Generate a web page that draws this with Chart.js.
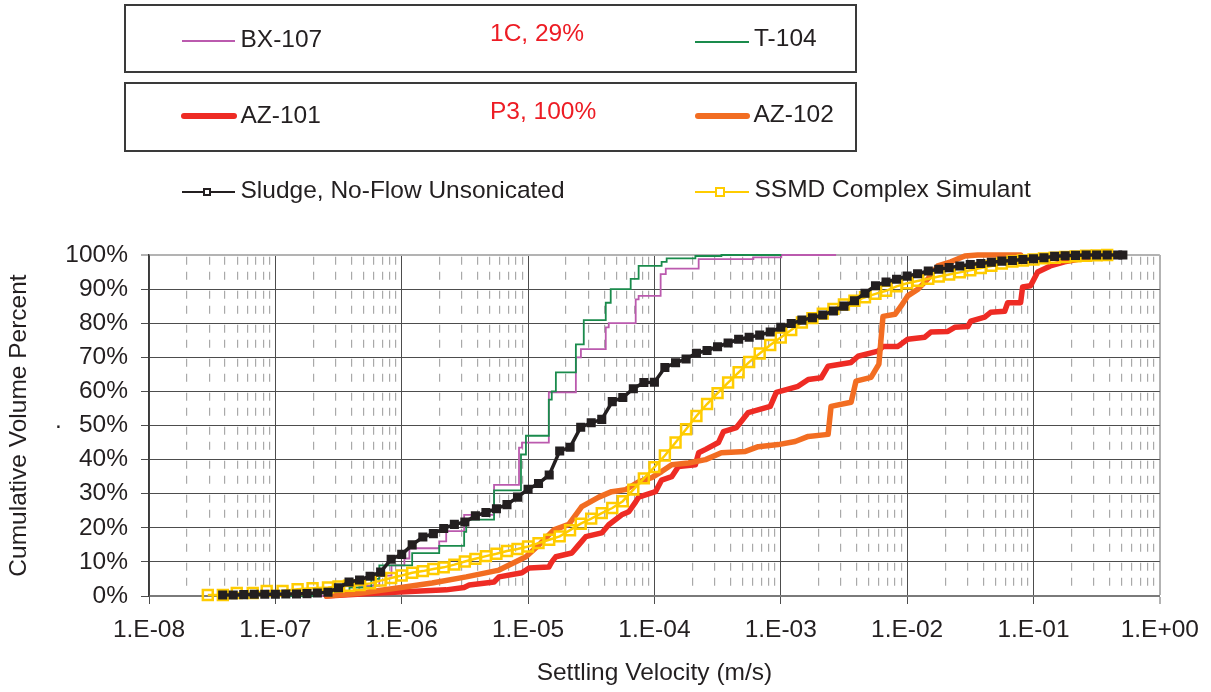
<!DOCTYPE html>
<html><head><meta charset="utf-8">
<script src="https://cdn.jsdelivr.net/npm/chart.js@4/dist/chart.umd.min.js"></script>
<style>
html,body{margin:0;padding:0;background:#fff;}
#wrap{position:relative;width:1211px;height:692px;overflow:hidden;font-family:"Liberation Sans",Arial,sans-serif;color:#231f20;}
#c{position:absolute;left:0;top:0;}
.box{position:absolute;box-sizing:border-box;border:2px solid #3a3a3a;}
.t{position:absolute;font-size:24.5px;line-height:24.5px;white-space:nowrap;}
.red{color:#ed1c24;}
.ln{position:absolute;}
.mk{position:absolute;box-sizing:border-box;}
</style></head>
<body><div id="wrap"><canvas id="c" width="1211" height="692"></canvas><div id="legend"></div></div>
<script>
// ---- names / labels ----
const seriesNames = ['BX-107','T-104','AZ-101','AZ-102','Sludge, No-Flow Unsonicated','SSMD Complex Simulant'];
const groupLabels = ['1C, 29%','P3, 100%'];
const xTitle = 'Settling Velocity (m/s)';
const yTitle = 'Cumulative Volume Percent';
const xMajorTicks = [1e-8,1e-7,1e-6,1e-5,1e-4,1e-3,1e-2,1e-1,1];
const xTickLabels = ['1.E-08','1.E-07','1.E-06','1.E-05','1.E-04','1.E-03','1.E-02','1.E-01','1.E+00'];
const xMinorMultipliers = [2,3,4,5,6,7,8,9];
const yTicks = [0,10,20,30,40,50,60,70,80,90,100];
const yTickLabels = ['0%','10%','20%','30%','40%','50%','60%','70%','80%','90%','100%'];

// ---- series values (velocity m/s, cumulative %) ----
const bx107V = [1.30e-7,2.69e-7,4.62e-7,6.65e-7,8.3e-7,1.05e-6,1.15e-6,1.98e-6,2.25e-6,3.12e-6,5.38e-6,8.48e-6,8.95e-6,1.46e-5,2.39e-5,2.62e-5,4.12e-5,4.35e-5,7.11e-5,7.50e-5,1.12e-4,1.23e-4,2.24e-4,6.07e-4,1.01e-3,2.74e-3];
const bx107P = [0,1,3,6,9,11,14,16,19,23.8,32.6,43.5,45,59.7,70,72.4,78.8,80,87,88,94.4,96,98.8,99.3,100,100];

const t104V = [1.08e-7,2.24e-7,3.86e-7,5.75e-7,6.65e-7,1.21e-6,1.98e-6,3.12e-6,3.24e-6,5.38e-6,8.79e-6,9.62e-6,1.46e-5,1.54e-5,1.66e-5,2.39e-5,2.76e-5,4.12e-5,4.51e-5,6.49e-5,7.50e-5,1.14e-4,1.25e-4,2.11e-4,3.39e-4,1.01e-3];
const t104P = [0,1,2.5,5,9,12.6,14.7,18.8,22.4,31,41.5,47,57.6,60,65.6,73.8,80.9,86,90,93,96.8,98,99,99.7,100,100];

const az101V = [2.54e-7,6.65e-7,2.25e-6,3.12e-6,3.42e-6,5.38e-6,5.89e-6,8.95e-6,1.02e-5,1.46e-5,1.54e-5,1.66e-5,2.22e-5,2.52e-5,2.86e-5,3.83e-5,4.35e-5,5.51e-5,6.27e-5,7.11e-5,7.50e-5,1.02e-4,1.14e-4,1.37e-4,1.55e-4,2.11e-4,2.24e-4,2.54e-4,3.21e-4,3.52e-4,4.46e-4,5.53e-4,8.26e-4,9.22e-4,1.37e-3,1.65e-3,2.09e-3,2.37e-3,3.60e-3,4.09e-3,5.88e-3,6.44e-3,8.46e-3,1.01e-2,1.38e-2,1.54e-2,2.10e-2,2.38e-2,3.02e-2,3.19e-2,4.11e-2,4.58e-2,5.92e-2,6.25e-2,7.91e-2,8.20e-2,9.48e-2,0.108,0.136,0.176,0.282,0.385];
const az101P = [0,0.9,1.8,2.5,3.2,4.1,5.6,6.8,8.2,8.5,10,11.5,12.6,15,17.4,18.5,20.9,23.8,24.7,27.6,29,30.6,34,35,38,38.5,42,43,45,48.2,49.4,53.8,55.6,59.7,61.5,63.5,64,67.4,68.5,70.3,71.8,73.2,73.2,75.3,75.9,77.4,77.6,78.8,79,80.6,81.8,83.2,83.5,86,86,90.6,91,95,96.8,98,99.4,100];

const az102V = [2.54e-7,4.62e-7,9.57e-7,1.74e-6,3.24e-6,5.89e-6,9.62e-6,1.22e-5,1.60e-5,2.10e-5,2.66e-5,3.63e-5,4.59e-5,5.93e-5,7.50e-5,9.51e-5,1.14e-4,1.37e-4,1.86e-4,2.54e-4,3.39e-4,5.25e-4,6.64e-4,9.55e-4,1.30e-3,1.65e-3,2.37e-3,2.50e-3,3.60e-3,3.94e-3,5.18e-3,5.98e-3,6.44e-3,8.02e-3,8.94e-3,1.01e-2,1.22e-2,1.46e-2,1.75e-2,2.22e-2,2.86e-2,3.62e-2,7.91e-2];
const az102P = [0,0.8,2.4,3.8,5.6,7.6,11.5,15,19.4,21,26.2,29,30.6,31.2,33.5,34.7,36.5,38.5,39,40,42,42.4,43.8,44.4,45.3,46.8,47.4,55.6,56.8,63,64.1,68,82,82.6,85,88,90,93,96.8,98,99.7,100,100];

const sludgeV = [3.83e-8,4.64e-8,5.62e-8,6.81e-8,8.25e-8,
 1e-7,1.21e-7,1.47e-7,1.78e-7,2.15e-7,2.61e-7,3.16e-7,3.83e-7,4.64e-7,5.62e-7,6.81e-7,8.25e-7,
 1e-6,1.21e-6,1.47e-6,1.78e-6,2.15e-6,2.61e-6,3.16e-6,3.83e-6,4.64e-6,5.62e-6,6.81e-6,8.25e-6,
 1e-5,1.21e-5,1.47e-5,1.78e-5,2.15e-5,2.61e-5,3.16e-5,3.83e-5,4.64e-5,5.62e-5,6.81e-5,8.25e-5,
 1e-4,1.21e-4,1.47e-4,1.78e-4,2.15e-4,2.61e-4,3.16e-4,3.83e-4,4.64e-4,5.62e-4,6.81e-4,8.25e-4,
 1e-3,1.21e-3,1.47e-3,1.78e-3,2.15e-3,2.61e-3,3.16e-3,3.83e-3,4.64e-3,5.62e-3,6.81e-3,8.25e-3,
 1e-2,1.21e-2,1.47e-2,1.78e-2,2.15e-2,2.61e-2,3.16e-2,3.83e-2,4.64e-2,5.62e-2,6.81e-2,8.25e-2,
 1e-1,1.21e-1,1.47e-1,1.78e-1,2.15e-1,2.61e-1,3.16e-1,3.83e-1,4.64e-1,5.1e-1];
const sludgeP = [0.3,0.3,0.4,0.5,0.5,
 0.5,0.6,0.6,0.7,0.9,1.1,2.4,4.1,4.7,5.8,7,10.8,
 12.2,15,17.3,18.3,19.8,21,21.7,23.5,24.5,25.6,26.8,29,
 31.3,33,35.5,42.5,43.6,49.5,50.8,51.8,57,58.2,60.8,62.6,
 62.7,67,68.4,69.5,71.2,72,73.1,74.2,75.3,75.9,76.5,77.4,
 78.8,79.9,80.9,81.6,82.4,83.6,85,86.6,88.8,91,92.1,92.9,
 93.8,94.5,95.3,95.8,96.3,96.8,97.2,97.5,97.9,98.2,98.4,98.7,
 98.9,99.2,99.6,99.8,99.9,100,100,100,100,100];

const ssmdV = [2.92e-8,3.84e-8,4.95e-8,6.62e-8,8.54e-8,1.14e-7,1.50e-7,1.97e-7,
 2.61e-7,3.16e-7,3.83e-7,4.64e-7,5.62e-7,6.81e-7,8.25e-7,
 1e-6,1.21e-6,1.47e-6,1.78e-6,2.15e-6,2.61e-6,3.16e-6,3.83e-6,4.64e-6,5.62e-6,6.81e-6,8.25e-6,
 1e-5,1.21e-5,1.47e-5,1.78e-5,2.15e-5,2.61e-5,3.16e-5,3.83e-5,4.64e-5,5.62e-5,6.81e-5,8.25e-5,
 1e-4,1.21e-4,1.47e-4,1.78e-4,2.15e-4,2.61e-4,3.16e-4,3.83e-4,4.64e-4,5.62e-4,6.81e-4,8.25e-4,
 1e-3,1.21e-3,1.47e-3,1.78e-3,2.15e-3,2.61e-3,3.16e-3,3.83e-3,4.64e-3,5.62e-3,6.81e-3,8.25e-3,
 1e-2,1.21e-2,1.47e-2,1.78e-2,2.15e-2,2.61e-2,3.16e-2,3.83e-2,4.64e-2,5.62e-2,6.81e-2,8.25e-2,
 1e-1,1.21e-1,1.47e-1,1.78e-1,2.15e-1,2.61e-1,3.16e-1,3.83e-1];
const ssmdP = [0.3,0.3,0.9,0.9,1.5,1.5,2,2.3,
 2.5,2.8,3.0,3.2,3.7,4.5,5.3,
 6.0,6.8,7.3,7.9,8.4,9.2,10.1,10.9,11.7,12.4,13.2,13.8,
 14.5,15.5,16.5,17.5,19.3,21.2,22.7,24.3,25.8,27.8,31.2,34.5,
 37.8,41.2,45,48.9,52.8,56.3,59.5,62.6,65.6,68.6,71.1,73.6,
 75.8,78,80.2,81.5,82.8,84.2,85.5,86.6,87.6,88.6,89.5,90.8,
 91.7,92.4,93,93.7,94.3,94.9,95.5,96.2,96.8,97.5,98.1,98.4,
 98.7,99,99.2,99.4,99.6,99.8,99.9,100];

// ---- colours ----
const colors = ['#bb5aae','#1a8b4c','#ee2b24','#f26d22','#231f20','#ffcc00'];

function pts(v, p){ return v.map((x,i)=>({x:x, y:p[i]})); }

// ---- legend (HTML) ----
const lg = document.getElementById('legend');
function add(html){ lg.insertAdjacentHTML('beforeend', html); }
add('<div class="box" style="left:124px;top:4px;width:733px;height:69px"></div>');
add('<div class="box" style="left:124px;top:82px;width:733px;height:70px"></div>');
function lineSample(x1,x2,top,h,c,round){ add('<div class="ln" style="left:'+x1+'px;top:'+top+'px;width:'+(x2-x1)+'px;height:'+h+'px;background:'+c+';'+(round?'border-radius:'+(h/2)+'px;':'')+'"></div>'); }
function markSample(left,top,s,bw,c,fill){ add('<div class="mk" style="left:'+left+'px;top:'+top+'px;width:'+s+'px;height:'+s+'px;border:'+bw+'px solid '+c+';background:'+fill+'"></div>'); }
function text(x,top,s,cls){ const d=document.createElement('div'); d.className='t'+(cls?' '+cls:''); d.style.left=x+'px'; d.style.top=top+'px'; d.textContent=s; lg.appendChild(d); }
lineSample(182,235,40,2,colors[0]); text(240.5,26.6,seriesNames[0]);
lineSample(695,749,41,2,colors[1]); text(754,26.3,seriesNames[1]);
text(490,21,groupLabels[0],'red');
lineSample(181,237,113,6,colors[2],true); text(240.5,102.6,seriesNames[2]);
lineSample(695,750,113,6,colors[3],true); text(753.5,102.3,seriesNames[3]);
text(490,98.6,groupLabels[1],'red');
lineSample(182,235,191,2,colors[4]); markSample(203,188,8,2,colors[4],'#fff'); text(240.5,177.6,seriesNames[4]);
lineSample(695,749,191,2,colors[5]); markSample(715,187,10,2,colors[5],'#fff'); text(754.5,177.3,seriesNames[5]);
text(55,407.5,'.');

// ---- chart ----
Chart.defaults.font.family = '"Liberation Sans", Arial, sans-serif';
Chart.defaults.font.size = 24.5;
Chart.defaults.color = '#231f20';

const common = {xAxisID:'x', yAxisID:'y', clip:false, tension:0, fill:false};
new Chart(document.getElementById('c'), {
  type:'line',
  data:{ datasets:[
    Object.assign({label:seriesNames[4], data:pts(sludgeV,sludgeP), borderColor:colors[4], borderWidth:3.5, pointStyle:'rect', pointRadius:5, pointBorderWidth:2, pointBackgroundColor:colors[4], pointBorderColor:colors[4], order:1}, common),
    Object.assign({label:seriesNames[5], data:pts(ssmdV,ssmdP), borderColor:colors[5], borderWidth:2.5, pointStyle:'rect', pointRadius:7, pointBorderWidth:2.5, pointBackgroundColor:'rgba(0,0,0,0)', pointBorderColor:colors[5], order:2}, common),
    Object.assign({label:seriesNames[3], data:pts(az102V,az102P), borderColor:colors[3], borderWidth:5.5, pointRadius:0, borderJoinStyle:'round', borderCapStyle:'round', order:3}, common),
    Object.assign({label:seriesNames[2], data:pts(az101V,az101P), borderColor:colors[2], borderWidth:5.5, pointRadius:0, borderJoinStyle:'round', borderCapStyle:'round', order:4}, common),
    Object.assign({label:seriesNames[1], data:pts(t104V,t104P), borderColor:colors[1], borderWidth:1.8, pointRadius:0, stepped:true, order:5}, common),
    Object.assign({label:seriesNames[0], data:pts(bx107V,bx107P), borderColor:colors[0], borderWidth:1.8, pointRadius:0, stepped:true, order:6}, common)
  ]},
  options:{
    responsive:false, animation:false, events:[],
    layout:{padding:{top:255,right:48,bottom:0,left:0}},
    plugins:{legend:{display:false}, tooltip:{enabled:false}},
    scales:{
      x:{ type:'logarithmic', position:'bottom', min:1e-8, max:1,
        afterBuildTicks:s=>{ s.ticks = xMajorTicks.map(v=>({value:v, major:true})); },
        afterFit:s=>{ s.height = 96; },
        ticks:{ autoSkip:false, maxRotation:0, minRotation:0, padding:12,
          callback:(v)=>{ const i = xMajorTicks.findIndex(t=>Math.abs(Math.log10(t)-Math.log10(v))<1e-6); return i>=0?xTickLabels[i]:''; } },
        grid:{ color:ctx=> (ctx.tick && ctx.tick.value===1) ? '#b3b3b3' : '#4d4d4d',
               lineWidth:ctx=> (ctx.tick && ctx.tick.value===1) ? 2 : 1, tickLength:8 },
        border:{ display:true, color:'#7a7a7a', width:2 },
        title:{ display:true, text:xTitle, padding:{top:0,bottom:4} }
      },
      xm:{ type:'logarithmic', position:'top', min:1e-8, max:1,
        afterBuildTicks:s=>{ const t=[]; xMajorTicks.slice(0,-1).forEach(d=>xMinorMultipliers.forEach(m=>t.push({value:d*m}))); s.ticks=t; },
        afterFit:s=>{ s.height = 0; },
        ticks:{ display:false },
        grid:{ color:'#a9a9a9', lineWidth:1.2, drawTicks:false, borderDash:[8,7,8,11], borderDashOffset:32.3 },
        border:{ display:false, dash:[8,7,8,11], dashOffset:32.3 }
      },
      y:{ type:'linear', min:0, max:100,
        afterBuildTicks:s=>{ s.ticks = yTicks.map(v=>({value:v})); },
        afterFit:s=>{ s.width = 149; },
        ticks:{ padding:13, callback:(v)=>{ const i=yTicks.indexOf(v); return i>=0?yTickLabels[i]:''; } },
        grid:{ color:ctx=> (ctx.tick && ctx.tick.value===100) ? '#b3b3b3' : '#4d4d4d',
               lineWidth:ctx=> (ctx.tick && ctx.tick.value===100) ? 2 : 1, tickLength:8 },
        border:{ display:true, color:'#3a3a3a', width:1.5 },
        title:{ display:true, text:yTitle, padding:{top:5,bottom:0} }
      }
    }
  }
});
</script>
</body></html>
